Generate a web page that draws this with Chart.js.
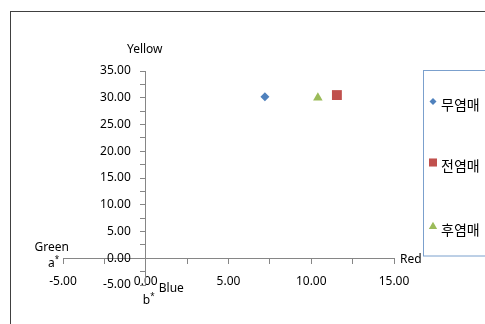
<!DOCTYPE html>
<html>
<head>
<meta charset="utf-8">
<title>a* b* 색차</title>
<script src="https://cdn.jsdelivr.net/npm/chart.js@4.4.1/dist/chart.umd.min.js"></script>
<style>
  html, body { margin: 0; padding: 0; background: #fff; }
  #wrap { width: 485px; height: 324px; position: relative; overflow: hidden; }
</style>
</head>
<body>
<div id="wrap"><canvas id="colorChart" width="485" height="324"></canvas></div>
<script>
// series
const seriesNames = ['무염매', '전염매', '후염매'];
const aValues = [7.2, 11.55, 10.4];    // a* (Green - / Red +)
const bValues = [30.2, 30.5, 30.0];    // b* (Blue - / Yellow +)
const seriesColors = ['#4F81BD', '#C0504D', '#9BBB59'];
const seriesShapes = ['rectRot', 'rect', 'triangle'];

// axis ticks (labels only on these values, minor marks every 2.5)
const xLabelValues = [-5, 0, 5, 10, 15];
const yLabelValues = [-5, 0, 5, 10, 15, 20, 25, 30, 35];

const tickFont = { family: 'Noto Sans', size: 12 };
const axisGray = '#868686';

const datasets = seriesNames.map((name, i) => ({
    label: name,
    data: [{ x: aValues[i], y: bValues[i] }],
    pointStyle: seriesShapes[i],
    pointRadius: [4.5, 7, 5.5][i],
    pointBackgroundColor: seriesColors[i],
    pointBorderColor: seriesColors[i],
    pointBorderWidth: 0,
    showLine: false
}));

// "a*" style caption with a small raised star
function starLabel(ctx, letter, x, y) {
    ctx.font = '12px "Noto Sans"';
    ctx.textAlign = 'left';
    ctx.fillText(letter, x, y);
    const w = ctx.measureText(letter).width;
    ctx.font = '8px "Noto Sans"';
    ctx.fillText('*', x + w, y - 4);
    ctx.font = '12px "Noto Sans"';
}

// frame, axis captions and legend box
const decor = {
    id: 'decor',
    beforeDraw(chart) {
        const ctx = chart.ctx;
        ctx.save();
        ctx.strokeStyle = '#404040';
        ctx.lineWidth = 1;
        ctx.strokeRect(10.5, 11.5, 600, 400);
        ctx.restore();

        // y tick labels sit left of the axis line, past the tick marks
        const ys = chart.scales.y;
        const items = ys.getLabelItems();
        if (!items._placed) {
            const x0 = chart.scales.x.getPixelForValue(0) - 5 - 10;
            items.forEach(it => {
                it.options.translation[0] = x0;
                it.options.textAlign = 'right';
            });
            items._placed = true;
        }
    },
    afterDraw(chart) {
        const ctx = chart.ctx;
        const xs = chart.scales.x, ys = chart.scales.y;
        const x0 = xs.getPixelForValue(0), y0 = ys.getPixelForValue(0);
        ctx.save();
        ctx.fillStyle = '#000';
        ctx.font = '12px "Noto Sans"';
        ctx.textBaseline = 'middle';

        ctx.textAlign = 'center';
        ctx.fillText('Yellow', x0 - 1, ys.getPixelForValue(35) - 21);

        ctx.textAlign = 'left';
        ctx.fillText('Red', xs.getPixelForValue(15) + 6, y0 + 1);
        ctx.fillText('Blue', x0 + 13, y0 + 30);
        starLabel(ctx, 'b', x0 - 3, y0 + 42);

        ctx.textAlign = 'right';
        ctx.fillText('Green', xs.getPixelForValue(-5) + 6, y0 - 11);
        starLabel(ctx, 'a', xs.getPixelForValue(-5) - 15, y0 + 5);

        // legend
        ctx.strokeStyle = '#7BA0CD';
        ctx.strokeRect(423.5, 70.5, 100, 185.5);
        const rowY = [105, 166, 230];
        const markR = [3.5, 5.7, 4.8];
        ctx.font = '14px "Noto Sans CJK KR"';
        ctx.textAlign = 'left';
        seriesNames.forEach((name, i) => {
            ctx.fillStyle = seriesColors[i];
            Chart.helpers.drawPoint(ctx, {
                pointStyle: seriesShapes[i], radius: markR[i], rotation: 0, borderWidth: 0
            }, 433, rowY[i] - 3.5);
            ctx.fillStyle = '#000';
            ctx.fillText(name, 441, rowY[i]);
        });
        ctx.restore();
    }
};

new Chart(document.getElementById('colorChart'), {
    type: 'scatter',
    data: { datasets },
    options: {
        responsive: false,
        animation: false,
        layout: { padding: { left: 63, right: 91, top: 71, bottom: 39 } },
        plugins: {
            legend: { display: false },
            tooltip: { enabled: false }
        },
        scales: {
            x: {
                type: 'linear',
                min: -5, max: 15,
                position: { y: 0 },
                ticks: {
                    stepSize: 2.5,
                    autoSkip: false,
                    maxRotation: 0,
                    padding: 11,
                    color: '#000',
                    font: tickFont,
                    callback: v => xLabelValues.includes(v) ? v.toFixed(2) : ''
                },
                grid: { drawOnChartArea: false, tickLength: 5, color: axisGray },
                border: { color: axisGray }
            },
            y: {
                type: 'linear',
                min: -5, max: 35,
                position: { x: 0 },
                ticks: {
                    stepSize: 2.5,
                    autoSkip: false,
                    color: '#000',
                    font: tickFont,
                    callback: v => yLabelValues.includes(v) ? v.toFixed(2) : ''
                },
                grid: { drawOnChartArea: false, tickLength: 5, color: axisGray },
                border: { color: axisGray }
            }
        }
    },
    plugins: [decor]
});
</script>
</body>
</html>
